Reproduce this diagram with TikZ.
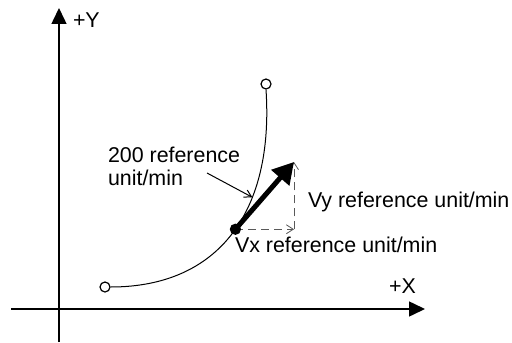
\documentclass[tikz,border=0pt]{standalone}
\usepackage{fontspec}
\setmainfont{Liberation Sans}
\usetikzlibrary{arrows.meta}

\begin{document}
\begin{tikzpicture}[x=0.5pt,y=-0.5pt,
  axis/.style={line width=0.75pt,-{Triangle[length=8pt,width=7.5pt]}},
  track/.style={line width=0.5pt},
  lbl/.style={font=\fontsize{10.7}{11.5}\selectfont,inner sep=0pt,outer sep=0pt},
  endpt/.style={circle,draw,fill=white,line width=0.6pt,minimum size=5pt,inner sep=0pt},
  dot/.style={circle,draw,fill,line width=0.6pt,minimum size=5pt,inner sep=0pt},
  comp/.style={line width=0.4pt,black!65,dash pattern=on 4pt off 2.5pt,-{Straight Barb[length=3.5pt,width=4.5pt]}},
  vel/.style={line width=2.5pt,-{Triangle[length=10.5pt,width=11.5pt]}},
  callout/.style={line width=0.5pt,-{Straight Barb[length=3.5pt,width=4pt]}}]
\useasboundingbox (0,0) rectangle (512,342);

% axes
\coordinate (xstart) at (11,309);
\coordinate (xend) at (425,309);
\coordinate (ybot) at (59,342);
\coordinate (ytop) at (59,8);
\draw[axis] (xstart) -- (xend);
\draw[axis] (ybot) -- (ytop);
\node[lbl,anchor=base west] (xlab) at (389,293) {+X};
\node[lbl,anchor=base west] (ylab) at (73,28) {+Y};

% path with start and end point
\node[endpt] (s) at (105,287) {};
\node[endpt] (e) at (266,84) {};
\draw[track] (s.east) .. controls (220,287) and (274,210) .. (e.south)
  coordinate[pos=0.52] (p) coordinate[pos=0.655] (q);

% velocity and its components
\coordinate (tip) at (294,162);
\coordinate (c) at (p -| tip);
\draw[comp] (p) -- (c);
\draw[comp] (c) -- (tip);
\draw[vel] (p) -- (tip);
\node[dot] (pt) at (p) {};

% labels
\node[lbl,anchor=north west,align=left] (feed) at (108,147) {200 reference\\unit/min};
\coordinate (fa) at (207,173);
\draw[callout] (fa) -- (q);
\node[lbl,anchor=base west] (vy) at (308,207) {Vy reference unit/min};
\node[lbl,anchor=base west] (vx) at (235,252) {Vx reference unit/min};
\end{tikzpicture}
\end{document}
